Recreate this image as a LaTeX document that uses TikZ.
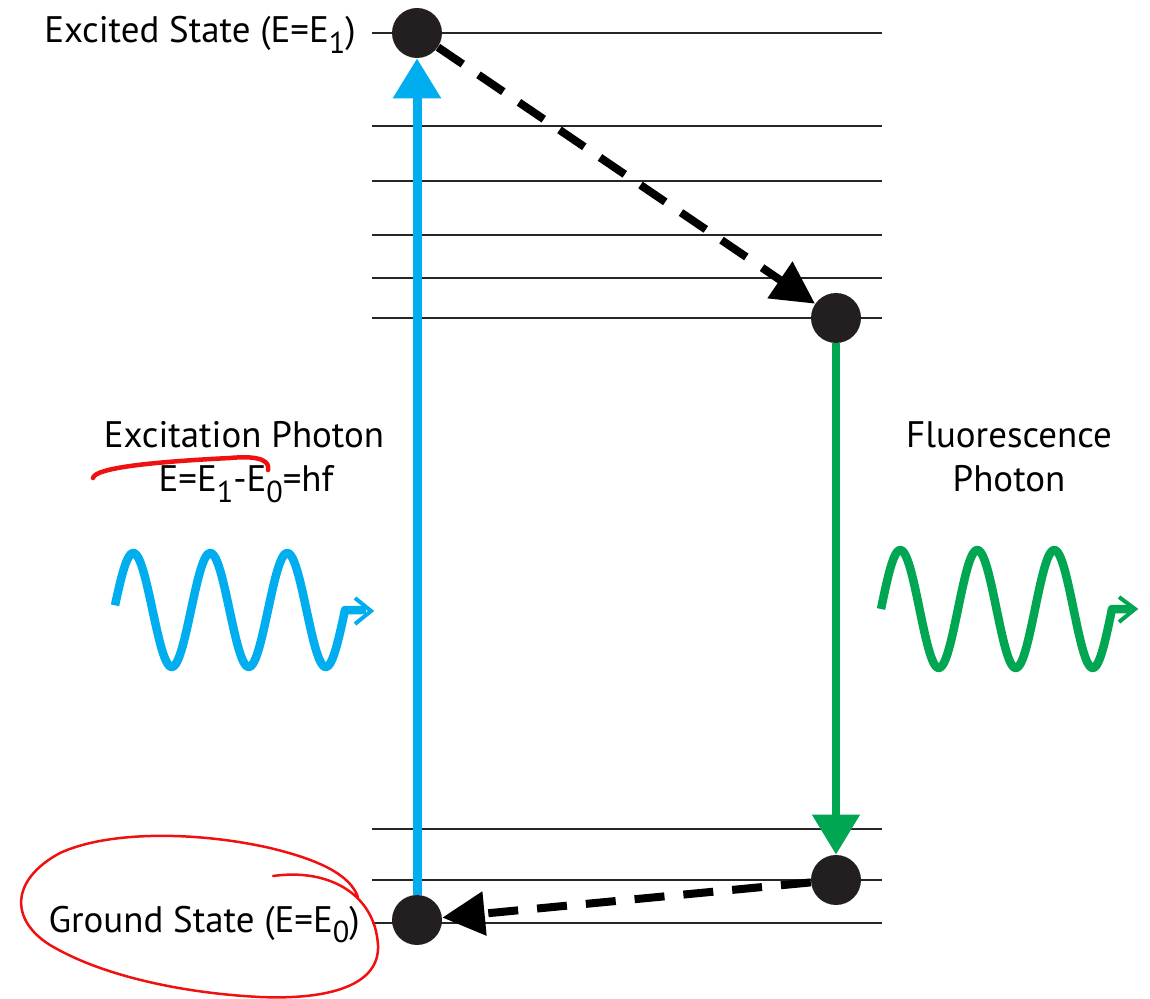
\documentclass[tikz,border=0pt]{standalone}
\usepackage{fontspec}
\setmainfont{PT Sans}
\usetikzlibrary{arrows.meta}
\definecolor{ablue}{HTML}{00AEEF}
\definecolor{agreen}{HTML}{00A651}
\definecolor{dotc}{HTML}{231F20}
\definecolor{ared}{HTML}{F01010}
\newcommand\lowsub[1]{\raisebox{-0.28em}{\scalebox{0.82}{#1}}}
\begin{document}
\begin{tikzpicture}[x=0.02cm,y=-0.02cm,
  level/.style={line width=0.04cm, black!85},
  statedot/.style={circle, fill=dotc, minimum size=1cm, inner sep=0pt},
  lbl/.style={inner sep=0pt, font=\fontsize{21}{25}\selectfont},
  bluearr/.style={ablue, line width=0.18cm, -{Triangle[width=0.92cm,length=0.8cm]}},
  greenarr/.style={agreen, line width=0.16cm, -{Triangle[width=0.92cm,length=0.8cm]}},
  dasharr/.style={black, line width=0.16cm, dash pattern=on 0.6cm off 0.38cm, -{Triangle[width=0.85cm,length=0.85cm]}},
  wave/.style={line width=0.17cm, line join=round},
  chev/.style={line width=0.08cm},
  redmark/.style={ared, line cap=round, line join=round}]
\useasboundingbox (0,0) rectangle (1150,999);
% energy levels
\foreach \yy in {33,126,181,235,278,318,829,880,923}
  \draw[level] (372,\yy) -- (882,\yy);
% state dots
\node[statedot] (e) at (417,33) {};
\node[statedot] (m) at (836,318) {};
\node[statedot] (f) at (836,880) {};
\node[statedot] (g) at (417,920) {};
% transitions
\draw[bluearr] (g) -- (e);
\draw[greenarr] (m) -- (f);
\draw[dasharr] (e) -- (m);
\draw[dasharr] (f) -- (g);
% labels
\node[lbl, anchor=base east] (tex) at (356,43) {Excited State (E=E\lowsub{1})};
\node[lbl, anchor=base east] (tgr) at (360,932) {Ground State (E=E\lowsub{0})};
\node[lbl, anchor=base] (tep) at (244,448) {Excitation Photon};
\node[lbl, anchor=base] (teq) at (246,492) {E=E\lowsub{1}-E\lowsub{0}=hf};
\node[lbl, anchor=base] (tfl) at (1009,448) {Fluorescence};
\node[lbl, anchor=base] (tfp) at (1009,492) {Photon};
% waves
\draw[wave, ablue] plot[domain=115:345, samples=150, smooth] (\x,{610-57*sin(4.6753*(\x-114))}) -- (366,610);
\draw[chev, ablue] (355,598) -- (371,611) -- (355,624);
\draw[wave, agreen] plot[domain=881:1112, samples=150, smooth] (\x,{609-59*sin(4.6753*(\x-881))}) -- (1131,609);
\draw[chev, agreen] (1119,597) -- (1135,609) -- (1119,622);
% red hand annotations
\draw[redmark, line width=0.09cm] (93,478) .. controls (95,468) and (150,462) .. (230,458) .. controls (262,455) and (270,462) .. (268,470);
\draw[redmark, line width=0.05cm] (273,876) .. controls (330,868) and (375,895) .. (378,945) .. controls (380,985) and (330,1000) .. (260,997) .. controls (180,993) and (100,975) .. (50,945) .. controls (10,920) and (10,880) .. (60,853) .. controls (110,830) and (200,832) .. (270,848) .. controls (320,860) and (350,875) .. (358,897);
\end{tikzpicture}
\end{document}
